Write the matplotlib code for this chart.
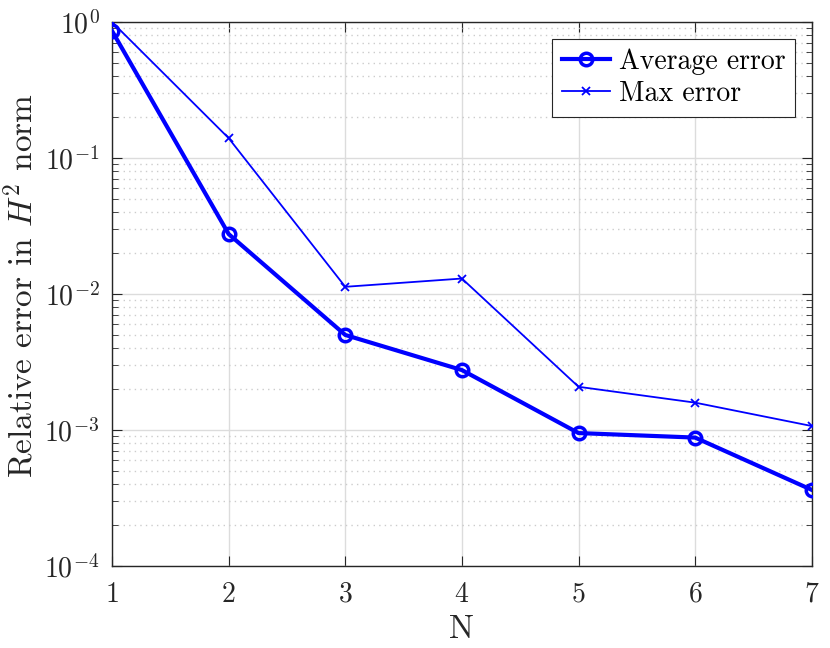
import matplotlib; matplotlib.use("Agg")
import matplotlib.pyplot as plt, numpy as np
from matplotlib.ticker import LogLocator, NullFormatter

plt.rcParams.update({"font.family":"serif","font.serif":["cmr10","DejaVu Serif"],
 "mathtext.fontset":"cm","axes.formatter.use_mathtext":True,"font.size":20})

N=[1,2,3,4,5,6,7]
avg_err=[0.86,0.0276,0.0050,0.00276,0.00095,0.00088,0.000363]
max_err=[1.0,0.140,0.0113,0.0130,0.00208,0.00159,0.00107]

fig=plt.figure(figsize=(8.3,6.48),dpi=100)
ax=fig.add_axes([0.135,0.1265,0.843,0.8395])
ax.semilogy(N,avg_err,"-o",color="blue",lw=3,ms=9,mew=2.5,mfc="none",label="Average error",zorder=3)
ax.semilogy(N,max_err,"-x",color="blue",lw=1.3,ms=6,mew=1.3,label="Max error",zorder=3)
ax.set_xlim(1,7); ax.set_ylim(1e-4,1)
ax.set_xticks(N)
ax.yaxis.set_major_locator(LogLocator(base=10,numticks=10))
ax.yaxis.set_minor_locator(LogLocator(base=10,subs=np.arange(2,10),numticks=10))
ax.yaxis.set_minor_formatter(NullFormatter())
ax.grid(True,which="major",color="#dcdcdc",lw=1)
ax.grid(True,which="minor",axis="y",color="#cccccc",ls=(0,(1,3)),lw=1)
ax.tick_params(which="both",direction="in",top=True,right=True,colors="#262626",labelcolor="#262626")
ax.tick_params(which="major",length=7,labelsize=20)
ax.tick_params(axis="x",which="major",pad=11)
ax.tick_params(axis="y",which="major",pad=9)
ax.tick_params(which="minor",length=4)
for s in ax.spines.values(): s.set_color("#262626"); s.set_linewidth(1)
ax.set_xlabel("N",fontsize=24,color="#262626",labelpad=5)
ax.set_ylabel(r"Relative error in $H^2$ norm",fontsize=24,color="#262626")
ax.yaxis.set_label_coords(-0.104,0.515)
leg=ax.legend(loc="upper right",fontsize=20,fancybox=False,framealpha=1,edgecolor="#262626",
 handlelength=1.75,borderaxespad=0.6,labelspacing=0.2,handletextpad=0.3,borderpad=0.35)
leg.get_frame().set_linewidth(0.8)
fig.savefig("out.png",dpi=100)
